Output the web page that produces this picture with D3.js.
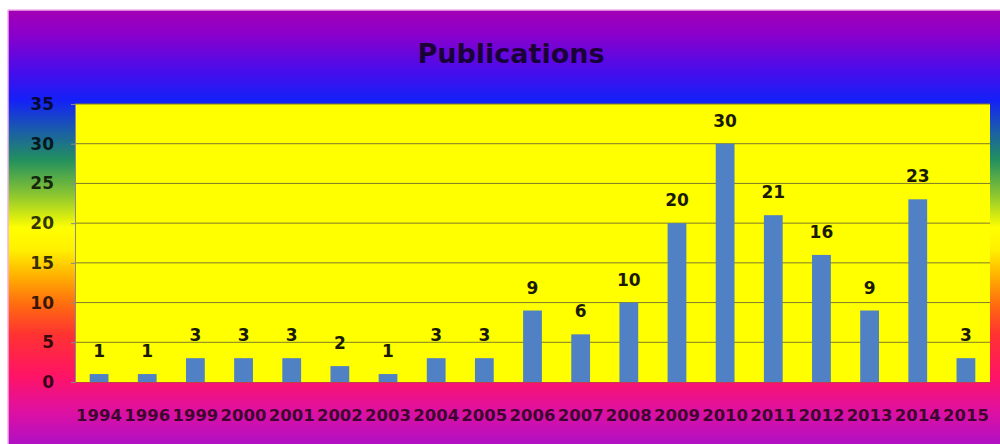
<!DOCTYPE html>
<html>
<head>
<meta charset="utf-8">
<script src="https://cdn.jsdelivr.net/npm/d3@7"></script>
<style>
  html, body { margin: 0; padding: 0; background: #fff; }
  svg { display: block; }
  text { font-family: "DejaVu Sans", sans-serif; font-weight: bold; }
</style>
</head>
<body>
<svg id="chart" width="1000" height="444"></svg>
<script>
// Publications per year
const years = ["1994","1996","1999","2000","2001","2002","2003","2004","2005","2006","2007","2008","2009","2010","2011","2012","2013","2014","2015"];
const counts = [1, 1, 3, 3, 3, 2, 1, 3, 3, 9, 6, 10, 20, 30, 21, 16, 9, 23, 3];
const yTicks = [0, 5, 10, 15, 20, 25, 30, 35];
const title = "Publications";

const svg = d3.select("#chart");
const W = 1000, H = 444;

// rainbow backdrop for the chart area
const defs = svg.append("defs");
const grad = defs.append("linearGradient")
  .attr("id", "rainbow")
  .attr("gradientUnits", "userSpaceOnUse")
  .attr("x1", 0).attr("y1", 10).attr("x2", 0).attr("y2", 444);
const stops = [
  [10, "#a400b4"], [35, "#8a00cc"], [70, "#4a0cea"], [100, "#1420f8"],
  [130, "#1a5caa"], [160, "#22905e"], [195, "#8cc630"], [228, "#ffff00"],
  [250, "#fff000"], [275, "#ffb400"], [305, "#ff6a10"], [335, "#ff3232"],
  [375, "#ff1464"], [410, "#e010a0"], [444, "#b010c4"]
];
stops.forEach(([y, c]) => grad.append("stop")
  .attr("offset", ((y - 10) / 434 * 100) + "%")
  .attr("stop-color", c));

svg.append("rect").attr("x", 8).attr("y", 10).attr("width", W - 8).attr("height", H - 10)
  .attr("fill", "url(#rainbow)");
svg.append("line").attr("x1", 8).attr("x2", 8).attr("y1", 10).attr("y2", H)
  .attr("stroke", "#f0b0e8").attr("stroke-width", 1.5);
svg.append("line").attr("x1", 8).attr("x2", W).attr("y1", 10).attr("y2", 10)
  .attr("stroke", "#f0b0e8").attr("stroke-width", 1.5);

// plot area
const plot = { left: 75, right: 990, top: 104, bottom: 382 };

const x = d3.scaleBand().domain(years)
  .range([plot.left, plot.right])
  .paddingInner(0.61).paddingOuter(0.305);
const y = d3.scaleLinear().domain([0, 35]).range([plot.bottom, plot.top]);

svg.append("rect")
  .attr("x", plot.left).attr("y", plot.top)
  .attr("width", plot.right - plot.left).attr("height", plot.bottom - plot.top)
  .attr("fill", "#ffff00");

// horizontal gridlines
svg.append("g")
  .selectAll("line").data(yTicks.filter(d => d > 0)).join("line")
  .attr("x1", plot.left).attr("x2", plot.right)
  .attr("y1", d => y(d)).attr("y2", d => y(d))
  .attr("stroke", "#7e7c2a").attr("stroke-width", 1);

// y axis
const yAxis = svg.append("g")
  .attr("transform", `translate(${plot.left},0)`)
  .call(d3.axisLeft(y).tickValues(yTicks).tickSize(4).tickPadding(17));
yAxis.select(".domain").attr("stroke", "#8a8a8a");
yAxis.selectAll(".tick line").attr("stroke", "#8a8a8a");
yAxis.selectAll(".tick text")
  .attr("fill", "#000").attr("fill-opacity", 0.78)
  .style("font-size", "17px").style("font-family", "DejaVu Sans").style("font-weight", "bold");

// x axis
const xAxis = svg.append("g")
  .attr("transform", `translate(0,${plot.bottom})`)
  .call(d3.axisBottom(x).tickSize(0).tickPadding(27));
xAxis.select(".domain").attr("stroke", "#c04050");
xAxis.selectAll(".tick text")
  .attr("fill", "#000").attr("fill-opacity", 0.72)
  .style("font-size", "16.5px").style("font-family", "DejaVu Sans").style("font-weight", "bold");

// bars
svg.append("g")
  .selectAll("rect").data(counts).join("rect")
  .attr("x", (d, i) => x(years[i]))
  .attr("y", d => y(d))
  .attr("width", x.bandwidth())
  .attr("height", d => y(0) - y(d))
  .attr("fill", "#4f81c4");

// value labels
svg.append("g")
  .selectAll("text").data(counts).join("text")
  .attr("x", (d, i) => x(years[i]) + x.bandwidth() / 2)
  .attr("y", d => y(d) - 17)
  .attr("text-anchor", "middle")
  .attr("fill", "#1a1a00")
  .style("font-size", "17px")
  .text(d => d);

// title
svg.append("text")
  .attr("x", 511).attr("y", 63)
  .attr("text-anchor", "middle")
  .attr("fill", "#000").attr("fill-opacity", 0.75)
  .style("font-size", "27px")
  .text(title);
</script>
</body>
</html>
